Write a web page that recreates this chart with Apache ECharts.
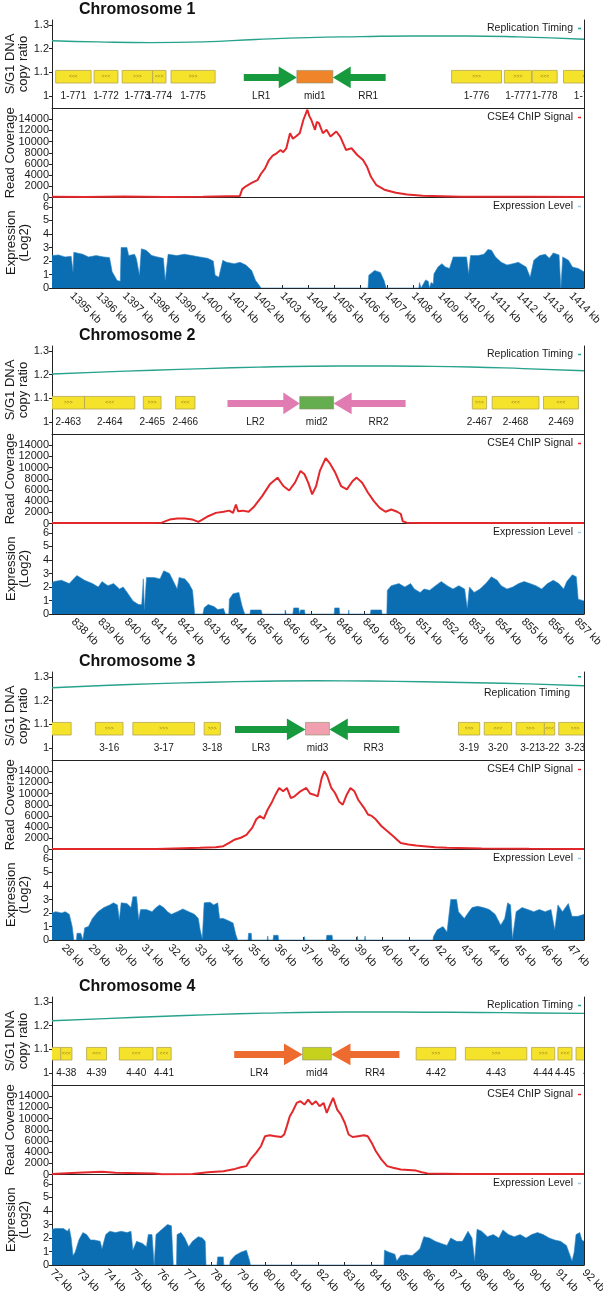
<!DOCTYPE html>
<html><head><meta charset="utf-8">
<script src="https://cdn.jsdelivr.net/npm/echarts@6/dist/echarts.min.js"></script>
<style>html,body{margin:0;padding:0;background:#fff}#c{width:603px;height:1299px}</style>
</head><body><div id="c"></div><script>
// ---------------- DATA ----------------
const chromNames = ['Chromosome 1','Chromosome 2','Chromosome 3','Chromosome 4'];
const chr1Range = [1394.25, 1414.5];
const chr2Range = [837.2, 857.3];
const chr3Range = [27.57, 47.57];
const chr4Range = [72, 92];
const chr1Ticks = [1395,1396,1397,1398,1399,1400,1401,1402,1403,1404,1405,1406,1407,1408,1409,1410,1411,1412,1413,1414];
const chr2Ticks = [838,839,840,841,842,843,844,845,846,847,848,849,850,851,852,853,854,855,856,857];
const chr3Ticks = [28,29,30,31,32,33,34,35,36,37,38,39,40,41,42,43,44,45,46,47];
const chr4Ticks = [72,73,74,75,76,77,78,79,80,81,82,83,84,85,86,87,88,89,90,91,92];
const ratioTicks = [1, 1.1, 1.2, 1.3];
const coverageTicks = [0,2000,4000,6000,8000,10000,12000,14000];
const exprTicks = [0,1,2,3,4,5,6];

// Replication timing (S/G1 copy ratio)
const chr1RepX = [1394.25,1396,1398,1400,1402,1404,1406,1408,1410,1412,1414.5];
const chr1RepY = [1.233,1.228,1.225,1.228,1.238,1.246,1.25,1.253,1.253,1.249,1.239];
const chr2RepX = [837.2,839,841,843,845,847,849,851,853,855,857.3];
const chr2RepY = [1.202,1.21,1.218,1.225,1.231,1.235,1.236,1.235,1.232,1.225,1.216];
const chr3RepX = [27.57,29.5,31.5,33.5,35.5,37.5,39.5,41.5,43.5,45.5,47.57];
const chr3RepY = [1.254,1.263,1.271,1.277,1.281,1.283,1.282,1.279,1.275,1.27,1.262];
const chr4RepX = [72,74,76,78,80,82,84,86,88,90,92];
const chr4RepY = [1.22,1.229,1.238,1.246,1.252,1.256,1.257,1.256,1.255,1.253,1.251];

// Genes: [name, start kb, end kb, strand]
const chr1Genes = [['1-771',1394.39,1395.74,-1],['1-772',1395.85,1396.76,-1],['1-773',1396.92,1398.08,1],['1-774',1398.08,1398.59,-1],['1-775',1398.78,1400.46,1],['1-776',1409.46,1411.36,1],['1-777',1411.47,1412.5,1],['1-778',1412.53,1413.48,-1],['1-779',1413.72,1415.48,-1]];
const chr2Genes = [['2-463',837.2,838.43,1],['2-464',838.43,840.33,-1],['2-465',840.65,841.32,1],['2-466',841.87,842.6,-1],['2-467',853.08,853.62,1],['2-468',853.83,855.6,-1],['2-469',855.77,857.09,-1]];
const chr3Genes = [['3-15',26.1,28.29,1],['3-16',29.2,30.24,1],['3-17',30.61,32.93,1],['3-18',33.29,33.9,1],['3-19',42.85,43.65,1],['3-20',43.82,44.85,-1],['3-21',45.02,46.08,1],['3-22',46.08,46.47,-1],['3-23',46.62,47.85,1]];
const chr4Genes = [['4-37',70.8,72.33,-1],['4-38',72.33,72.75,-1],['4-39',73.3,74.05,-1],['4-40',74.53,75.8,-1],['4-41',75.94,76.48,-1],['4-42',85.69,87.18,1],['4-43',87.54,89.85,1],['4-44',90.03,90.9,1],['4-45',91.02,91.55,-1],['4-46',91.7,93.0,1]];

// Centromere constructs: [LR start, LR head base, mid start, mid end, RR head base, RR end]
const chr1Cen = [1401.55,1402.88,1403.57,1404.94,1405.62,1406.95];
const chr2Cen = [843.83,845.94,846.56,847.84,848.52,850.56];
const chr3Cen = [34.45,36.4,37.1,38.0,38.69,40.63];
const chr4Cen = [78.85,80.72,81.42,82.5,83.22,85.06];
const chr1CenNames = ['LR1','mid1','RR1'];
const chr2CenNames = ['LR2','mid2','RR2'];
const chr3CenNames = ['LR3','mid3','RR3'];
const chr4CenNames = ['LR4','mid4','RR4'];

// CSE4 ChIP read coverage [kb, reads]
const chr1Chip = [[1394.25,150],[1395.5,100],[1397,200],[1398.5,100],[1400,150],[1401.4,250],[1401.49,1500],[1401.63,2000],[1401.85,2600],[1402.07,3100],[1402.2,4200],[1402.36,5200],[1402.51,6700],[1402.65,7500],[1402.8,7900],[1402.95,8500],[1403.05,8100],[1403.17,8800],[1403.31,11500],[1403.42,10500],[1403.53,10900],[1403.68,11500],[1403.82,13900],[1403.97,15700],[1404.05,14500],[1404.12,13900],[1404.26,12100],[1404.33,13500],[1404.41,13300],[1404.56,11500],[1404.7,12100],[1404.85,10900],[1405.07,11800],[1405.22,10900],[1405.35,9500],[1405.44,8500],[1405.65,8800],[1405.87,7600],[1406.09,6700],[1406.24,5500],[1406.39,3700],[1406.6,2200],[1406.9,1400],[1407.34,840],[1407.77,540],[1408.36,300],[1409.82,150],[1411,120],[1412.5,150],[1414.5,100]];
const chr2Chip = [[837.2,100],[839,80],[841,100],[841.35,150],[841.64,700],[841.93,900],[842.22,900],[842.51,700],[842.73,300],[842.88,700],[843.1,1300],[843.39,1900],[843.68,2100],[843.9,2300],[844.04,1900],[844.15,3400],[844.23,2200],[844.41,2300],[844.63,2100],[844.85,3100],[845.14,4900],[845.43,7000],[845.72,8200],[845.94,6700],[846.16,5900],[846.38,7300],[846.59,9400],[846.74,8800],[846.88,7300],[847.03,5200],[847.18,6700],[847.32,9400],[847.54,11700],[847.69,10800],[847.9,9100],[848.12,6700],[848.34,6100],[848.56,7600],[848.71,8200],[848.92,7300],[849.14,5500],[849.36,4000],[849.58,2800],[849.8,2100],[850.02,2500],[850.24,2100],[850.38,1700],[850.45,400],[850.6,150],[851.26,80],[853,100],[855,80],[857.3,100]];
const chr3Chip = [[27.57,100],[29.5,80],[31.5,100],[33.14,300],[33.72,400],[34.01,600],[34.23,1200],[34.45,1800],[34.67,2100],[34.88,2600],[35.1,3900],[35.25,5400],[35.39,6000],[35.53,5500],[35.68,7150],[35.82,8300],[35.97,9800],[36.11,11000],[36.26,10400],[36.4,11000],[36.55,9200],[36.69,9500],[36.91,10400],[37.13,11000],[37.27,10000],[37.42,9800],[37.56,9500],[37.71,12800],[37.81,14000],[37.92,13100],[38.07,11000],[38.21,10100],[38.36,8600],[38.5,8000],[38.65,9800],[38.79,11000],[38.94,10400],[39.08,8900],[39.3,7450],[39.45,6250],[39.59,6000],[39.74,5400],[39.95,4200],[40.17,3300],[40.39,2400],[40.53,1800],[40.68,1150],[40.97,900],[41.26,700],[41.55,600],[41.98,400],[42.42,300],[43.72,200],[45.5,120],[47.57,100]];
const chr4Chip = [[72,100],[72.94,300],[73.88,500],[74.39,300],[75.84,200],[76.13,50],[77.28,100],[77.86,400],[78.44,600],[78.88,1000],[79.1,1300],[79.31,1500],[79.46,2700],[79.68,3900],[79.86,5100],[80.01,6850],[80.18,7000],[80.4,6850],[80.62,6700],[80.73,7150],[80.83,8650],[80.94,10400],[81.05,11300],[81.2,12800],[81.34,13100],[81.49,12500],[81.63,13400],[81.78,12500],[81.92,13100],[82.06,12200],[82.21,12800],[82.33,11000],[82.43,12200],[82.57,13700],[82.72,11600],[82.86,10700],[83.01,9200],[83.15,7150],[83.3,6700],[83.51,6850],[83.73,7000],[83.87,6850],[84.02,5650],[84.17,4200],[84.38,2700],[84.6,1500],[84.82,1200],[85.11,900],[85.4,800],[85.69,700],[85.9,400],[86.12,200],[87.43,100],[92,80]];

// Expression level (log2) [kb, value]
const chr1Expr = [[1394.25,2.4],[1394.5,2.45],[1394.75,2.3],[1394.98,2.35],[1395.05,1.2],[1395.08,2.65],[1395.42,2.5],[1395.64,2.3],[1395.93,2.4],[1396.22,2.3],[1396.44,2.25],[1396.54,1.2],[1396.73,0.55],[1396.85,0.5],[1396.88,3.0],[1397.1,3.0],[1397.17,2.4],[1397.39,2.5],[1397.46,2.2],[1397.58,0.95],[1397.65,2.9],[1397.83,2.8],[1398.05,2.4],[1398.26,2.3],[1398.49,2.2],[1398.56,0.55],[1398.67,2.5],[1399.0,2.4],[1399.29,2.5],[1399.58,2.4],[1399.87,2.3],[1400.17,2.2],[1400.39,2.0],[1400.46,0.95],[1400.6,0.8],[1400.75,2.05],[1400.9,1.9],[1401.19,1.8],[1401.41,1.9],[1401.63,1.7],[1401.85,1.3],[1402.0,0.55],[1402.1,0.3],[1402.21,0],[1406.28,0],[1406.31,0.95],[1406.53,1.3],[1406.75,1.15],[1406.89,0.55],[1406.97,0],[1408.21,0],[1408.24,0.4],[1408.3,0],[1408.47,0.6],[1408.57,0.5],[1408.62,0],[1408.68,0.4],[1408.76,0.3],[1408.79,1.05],[1408.94,1.55],[1409.09,1.8],[1409.23,1.55],[1409.38,1.45],[1409.52,2.3],[1409.82,2.3],[1410.03,2.3],[1410.11,1.05],[1410.18,2.4],[1410.47,2.4],[1410.69,2.5],[1410.84,2.85],[1410.98,2.8],[1411.13,2.3],[1411.35,1.9],[1411.57,1.7],[1411.79,1.8],[1412.0,1.9],[1412.3,1.55],[1412.45,0.8],[1412.59,2.05],[1412.81,2.4],[1413.03,2.5],[1413.18,2.2],[1413.33,2.6],[1413.55,2.45],[1413.62,0],[1413.69,2.3],[1413.91,2.05],[1414.06,1.55],[1414.28,1.45],[1414.5,1.2]];
const chr2Expr = [[837.2,2.25],[837.27,2.4],[837.56,2.5],[837.85,2.25],[838.14,2.85],[838.43,2.5],[838.73,2.25],[838.95,2.0],[839.09,2.4],[839.31,2.1],[839.53,2.25],[839.75,1.85],[839.89,2.0],[840.04,1.6],[840.26,0.97],[840.47,0.7],[840.59,0.7],[840.65,2.6],[840.69,0.33],[840.77,2.7],[841.06,2.7],[841.28,2.6],[841.42,3.2],[841.64,3.0],[841.79,2.4],[841.93,1.85],[842.0,2.7],[842.22,2.6],[842.37,2.25],[842.51,1.75],[842.59,0],[842.9,0],[842.95,0.46],[843.1,0.7],[843.32,0.55],[843.46,0.33],[843.68,0.4],[843.75,0],[843.88,0],[843.9,1.1],[844.04,1.5],[844.26,1.6],[844.38,0.6],[844.48,0],[844.68,0],[844.7,0.3],[845.1,0.3],[845.14,0],[846.0,0],[846.01,0.3],[846.05,0],[846.3,0],[846.33,0.45],[846.52,0.45],[846.55,0],[846.59,0.3],[846.74,0.3],[846.76,0],[847.86,0],[847.88,0.45],[848.05,0.45],[848.07,0],[848.4,0],[848.41,0.3],[848.43,0],[849.23,0],[849.25,0.3],[849.65,0.3],[849.67,0],[849.85,0],[849.87,1.75],[850.02,2.1],[850.31,2.25],[850.53,2.0],[850.75,2.25],[850.89,1.85],[851.11,1.6],[851.26,1.85],[851.47,1.75],[851.69,2.1],[851.91,2.4],[852.13,2.1],[852.35,1.85],[852.57,2.1],[852.79,1.85],[852.89,0.4],[852.97,2.0],[853.15,1.6],[853.37,1.85],[853.59,2.25],[853.8,2.75],[854.02,2.5],[854.17,2.1],[854.39,1.85],[854.61,2.0],[854.83,2.25],[855.04,2.4],[855.26,2.25],[855.48,2.1],[855.7,1.85],[855.92,2.25],[856.14,2.5],[856.35,2.25],[856.53,1.85],[856.65,2.4],[856.86,2.9],[857.01,2.75],[857.08,1.1],[857.3,0.97]];
const chr3Expr = [[27.57,2.0],[27.71,2.1],[27.93,2.0],[28.07,2.1],[28.22,1.9],[28.33,1.0],[28.39,0],[28.49,0],[28.51,0.5],[28.65,0.5],[28.73,0],[28.78,0],[28.8,0.9],[28.94,1.0],[29.09,1.6],[29.3,2.1],[29.52,2.4],[29.74,2.6],[29.88,2.75],[30.03,2.6],[30.1,1.5],[30.17,2.75],[30.39,2.7],[30.54,2.4],[30.61,3.2],[30.75,3.2],[30.83,1.5],[30.9,2.25],[31.12,2.25],[31.33,2.1],[31.48,2.4],[31.62,2.6],[31.77,2.4],[31.91,2.1],[32.06,1.9],[32.28,2.1],[32.49,2.3],[32.71,2.1],[32.93,1.9],[33.07,1.6],[33.14,0.75],[33.22,0.1],[33.29,2.75],[33.51,2.8],[33.65,2.6],[33.8,2.75],[33.87,1.6],[34.01,1.6],[34.23,1.4],[34.38,1.25],[34.48,0.4],[34.55,0],[34.94,0],[34.96,0.5],[35.06,0.5],[35.08,0],[35.66,0],[35.68,0.3],[35.7,0],[35.88,0],[35.9,0.35],[36.07,0.35],[36.09,0],[37.04,0],[37.06,0.25],[37.08,0],[37.88,0],[37.9,0.35],[38.1,0.35],[38.12,0],[39.03,0],[39.05,0.3],[39.07,0],[39.32,0],[39.34,0.3],[39.36,0],[41.89,0],[41.91,0.25],[42.05,0.75],[42.27,1.0],[42.42,0.6],[42.56,3.0],[42.78,3.0],[42.85,2.1],[43.07,1.6],[43.21,2.0],[43.36,2.4],[43.57,2.5],[43.79,2.4],[44.01,2.25],[44.23,1.9],[44.44,1.1],[44.59,1.6],[44.7,2.75],[44.81,2.6],[44.88,0.1],[45.02,2.1],[45.24,2.4],[45.46,2.25],[45.68,2.1],[45.89,2.25],[46.11,2.1],[46.33,2.25],[46.47,0.75],[46.59,2.6],[46.76,2.1],[46.98,2.7],[47.12,1.75],[47.34,1.75],[47.57,1.9]];
const chr4Expr = [[72.0,2.65],[72.14,2.7],[72.43,2.7],[72.58,2.5],[72.65,2.7],[72.72,2.0],[72.79,0.7],[72.87,0.95],[73.01,1.85],[73.16,2.4],[73.3,2.25],[73.45,1.85],[73.59,1.85],[73.81,1.75],[73.88,1.2],[74.02,2.25],[74.17,2.5],[74.39,2.4],[74.6,2.5],[74.82,2.4],[74.97,2.5],[75.04,1.1],[75.18,1.75],[75.4,1.6],[75.55,1.35],[75.62,2.25],[75.76,2.25],[75.84,0],[75.91,2.25],[76.05,2.5],[76.2,2.75],[76.34,3.0],[76.49,2.9],[76.56,0],[76.68,0],[76.7,2.25],[76.85,2.4],[76.99,2.0],[77.14,1.35],[77.28,1.75],[77.5,2.1],[77.65,2.0],[77.76,1.75],[77.79,0],[78.2,0],[78.23,0.6],[78.44,0.6],[78.46,0],[78.68,0],[78.7,0.3],[78.88,0.7],[79.1,0.95],[79.31,1.1],[79.43,0.3],[79.46,0],[84.48,0],[84.5,1.1],[84.67,0.95],[84.89,0.8],[84.96,0.3],[85.11,0.7],[85.32,0.75],[85.54,0.7],[85.69,0.95],[85.83,1.2],[85.98,2.1],[86.19,2.0],[86.41,1.75],[86.63,1.6],[86.85,1.45],[86.99,2.0],[87.21,1.75],[87.43,1.75],[87.57,2.25],[87.64,2.5],[87.79,2.0],[87.89,0.3],[87.98,2.65],[88.15,2.5],[88.37,2.1],[88.59,2.25],[88.8,2.0],[88.95,2.6],[89.16,2.25],[89.38,2.1],[89.6,2.25],[89.82,2.0],[90.03,2.25],[90.25,2.4],[90.47,2.25],[90.69,2.0],[90.9,1.85],[91.12,1.75],[91.34,1.45],[91.55,0.3],[91.63,0.95],[91.7,2.25],[91.84,2.4],[91.92,1.85],[92.0,1.75]];

// ---------------- BUILD ----------------
const FONT = '"Liberation Sans", Arial, Helvetica, sans-serif';
const TXT = '#1a1a1a';
const blocks = [
  {range:chr1Range, ticks:chr1Ticks, repX:chr1RepX, repY:chr1RepY, genes:chr1Genes, cen:chr1Cen, cenNames:chr1CenNames, chip:chr1Chip, expr:chr1Expr, arrow:'#17993D', mid:'#EF8428'},
  {range:chr2Range, ticks:chr2Ticks, repX:chr2RepX, repY:chr2RepY, genes:chr2Genes, cen:chr2Cen, cenNames:chr2CenNames, chip:chr2Chip, expr:chr2Expr, arrow:'#E07CB2', mid:'#64AE50'},
  {range:chr3Range, ticks:chr3Ticks, repX:chr3RepX, repY:chr3RepY, genes:chr3Genes, cen:chr3Cen, cenNames:chr3CenNames, chip:chr3Chip, expr:chr3Expr, arrow:'#17993D', mid:'#F0A0AE'},
  {range:chr4Range, ticks:chr4Ticks, repX:chr4RepX, repY:chr4RepY, genes:chr4Genes, cen:chr4Cen, cenNames:chr4CenNames, chip:chr4Chip, expr:chr4Expr, arrow:'#EE6B2F', mid:'#C5D11D'}
];
const OFFS = [0, 326, 652, 977];
const GL = 52, GR = 19;
const BOX_T = 1.108, BOX_B = 1.055, LBL_Y = 1.0;
const AR_BT = 1.093, AR_BB = 1.0635, AR_HT = 1.124, AR_HB = 1.033, AR_MID = 1.078;

const grid = [], xAxis = [], yAxis = [], series = [], legend = [], title = [];
const lineAx = {show:true, lineStyle:{color:'#222', width:1}};

function yAxisFor(gi, min, max, ticks, name, gap) {
  yAxis.push({type:'value', gridIndex:gi, min, max, position:'left',
    axisLine:lineAx, splitLine:{show:false},
    axisTick:{show:true, length:3, customValues:ticks, lineStyle:{color:'#222'}},
    axisLabel:{customValues:ticks, fontSize:11, color:TXT, fontFamily:FONT, margin:3, formatter:v => String(v)},
    name, nameLocation:'middle', nameRotate:90, nameGap:gap, nameMoveOverlap:false,
    nameTextStyle:{fontSize:13, color:TXT, fontFamily:FONT, lineHeight:13}});
  yAxis.push({type:'value', gridIndex:gi, min, max, position:'right',
    axisLine:lineAx, splitLine:{show:false}, axisTick:{show:false}, axisLabel:{show:false}});
}

blocks.forEach((b, k) => {
  const o = OFFS[k];
  const g0 = k*3;
  const gBase = {left:GL, right:GR, containLabel:false, outerBoundsMode:'none'};
  grid.push(Object.assign({top:o+20, height:88}, gBase));
  grid.push(Object.assign({top:o+108, height:89.5}, gBase));
  grid.push(Object.assign({top:o+197.5, height:90.5}, gBase));
  for (let j=0;j<3;j++) {
    const last = j===2;
    xAxis.push({type:'value', gridIndex:g0+j, min:b.range[0], max:b.range[1], position:'bottom',
      axisLine:lineAx, splitLine:{show:false},
      axisTick: last ? {show:true, inside:true, length:3, customValues:b.ticks, lineStyle:{color:'#222'}} : {show:false},
      axisLabel: last ? {show:true, customValues:b.ticks, rotate:-45, fontSize:11, color:TXT, fontFamily:FONT, margin:6,
        hideOverlap:false, formatter:v => v + ' kb'} : {show:false}});
  }
  yAxisFor(g0, 0.95, 1.32, ratioTicks, 'S/G1 DNA\ncopy ratio', 22);
  yAxisFor(g0+1, 0, 16000, coverageTicks, 'Read Coverage', 35);
  yAxisFor(g0+2, 0, 6.7, exprTicks, 'Expression\n(Log2)', 21);

  title.push({text:chromNames[k], left:79, top:o+2, padding:0,
    textStyle:{fontSize:16, fontWeight:'bold', color:'#111', fontFamily:FONT}});

  const yi = g0*2;
  series.push({name:'Replication Timing', type:'line', xAxisIndex:g0, yAxisIndex:yi,
    data:b.repX.map((x,i)=>[x,b.repY[i]]), smooth:0.5, showSymbol:false, silent:true,
    lineStyle:{width:1.4, color:'#27A28C'}, itemStyle:{color:'#27A28C'}, z:3});

  const gNames = b.genes.map(g=>g[0]);
  series.push({type:'custom', xAxisIndex:g0, yAxisIndex:yi, clip:true, silent:true,
    data:b.genes.map(g=>[g[1],g[2],g[3]]),
    renderItem:(params, api) => {
      const s = api.value(0), e = api.value(1), d = api.value(2);
      const p1 = api.coord([s, BOX_T]), p2 = api.coord([e, BOX_B]);
      const pc = api.coord([(s+e)/2, (BOX_T+BOX_B)/2]);
      const pl = api.coord([(s+e)/2, LBL_Y]);
      return {type:'group', children:[
        {type:'rect', shape:{x:p1[0], y:p1[1], width:p2[0]-p1[0], height:p2[1]-p1[1]},
          style:{fill:'#F5E22B', stroke:'#B4A550', lineWidth:0.8}},
        {type:'text', x:pc[0], y:pc[1], style:{text: d>0?'>>>':'<<<', fontSize:5, fill:'#8d7a1c', align:'center', verticalAlign:'middle', fontFamily:FONT}},
        {type:'text', x:pl[0], y:pl[1], style:{text:gNames[params.dataIndex], fontSize:10, fill:TXT, align:'center', verticalAlign:'middle', fontFamily:FONT}}
      ]};
    }});

  const c = b.cen;
  series.push({type:'custom', xAxisIndex:g0, yAxisIndex:yi, clip:true, silent:true,
    data:[[c[0],c[1],c[2],0],[c[2],c[3],0,1],[c[3],c[4],c[5],2]],
    renderItem:(params, api) => {
      const t = api.value(3);
      const a = api.value(0), m = api.value(1), z = api.value(2);
      const P = (x,y) => api.coord([x,y]);
      let shape, lx;
      if (t === 1) {
        const p1 = P(a, BOX_T), p2 = P(m, BOX_B);
        lx = (a+m)/2;
        shape = {type:'rect', shape:{x:p1[0], y:p1[1], width:p2[0]-p1[0], height:p2[1]-p1[1]},
          style:{fill:b.mid, stroke:'#8c8c6c', lineWidth:0.6}};
      } else {
        let pts;
        if (t === 0) { pts = [P(a,AR_BT),P(m,AR_BT),P(m,AR_HT),P(z,AR_MID),P(m,AR_HB),P(m,AR_BB),P(a,AR_BB)]; lx = (a+m)/2; }
        else { pts = [P(z,AR_BT),P(m,AR_BT),P(m,AR_HT),P(a,AR_MID),P(m,AR_HB),P(m,AR_BB),P(z,AR_BB)]; lx = (m+z)/2; }
        shape = {type:'polygon', shape:{points:pts}, style:{fill:b.arrow}};
      }
      const pl = P(lx, LBL_Y);
      return {type:'group', children:[shape,
        {type:'text', x:pl[0], y:pl[1], style:{text:b.cenNames[t], fontSize:10, fill:TXT, align:'center', verticalAlign:'middle', fontFamily:FONT}}]};
    }});

  series.push({name:'CSE4 ChIP Signal', type:'line', xAxisIndex:g0+1, yAxisIndex:(g0+1)*2,
    data:b.chip, showSymbol:false, silent:true, lineStyle:{width:2, color:'#E3282C'}, itemStyle:{color:'#E3282C'}, z:4});

  series.push({name:'Expression Level', type:'line', xAxisIndex:g0+2, yAxisIndex:(g0+2)*2,
    data:b.expr, showSymbol:false, silent:true, lineStyle:{width:0.6, color:'#2E86C8'},
    itemStyle:{color:'#9CC8EA'}, areaStyle:{color:'#0B6DB2', opacity:1}, z:2});

  const lg = (name, top, fmt) => ({data:[name], right:22, top, icon:'rect', itemWidth:3, itemHeight:1.5,
    align:'right', padding:0, selectedMode:false, itemGap:0,
    textStyle:{fontSize:10.5, color:TXT, fontFamily:FONT}, formatter: fmt || (n=>n)});
  if (k === 2) {
    legend.push(lg('Replication Timing', o+24, () => ''));
    title.push({text:'Replication Timing', right:33, top:o+36, padding:0,
      textStyle:{fontSize:10.5, fontWeight:'normal', color:TXT, fontFamily:FONT}});
  } else {
    legend.push(lg('Replication Timing', o+23));
  }
  legend.push(lg('CSE4 ChIP Signal', o+112));
  legend.push(lg('Expression Level', o+201));
});

const chart = echarts.init(document.getElementById('c'), null, {renderer:'canvas'});
chart.setOption({backgroundColor:'#fff', animation:false, title, legend, grid, xAxis, yAxis, series});
</script></body></html>
